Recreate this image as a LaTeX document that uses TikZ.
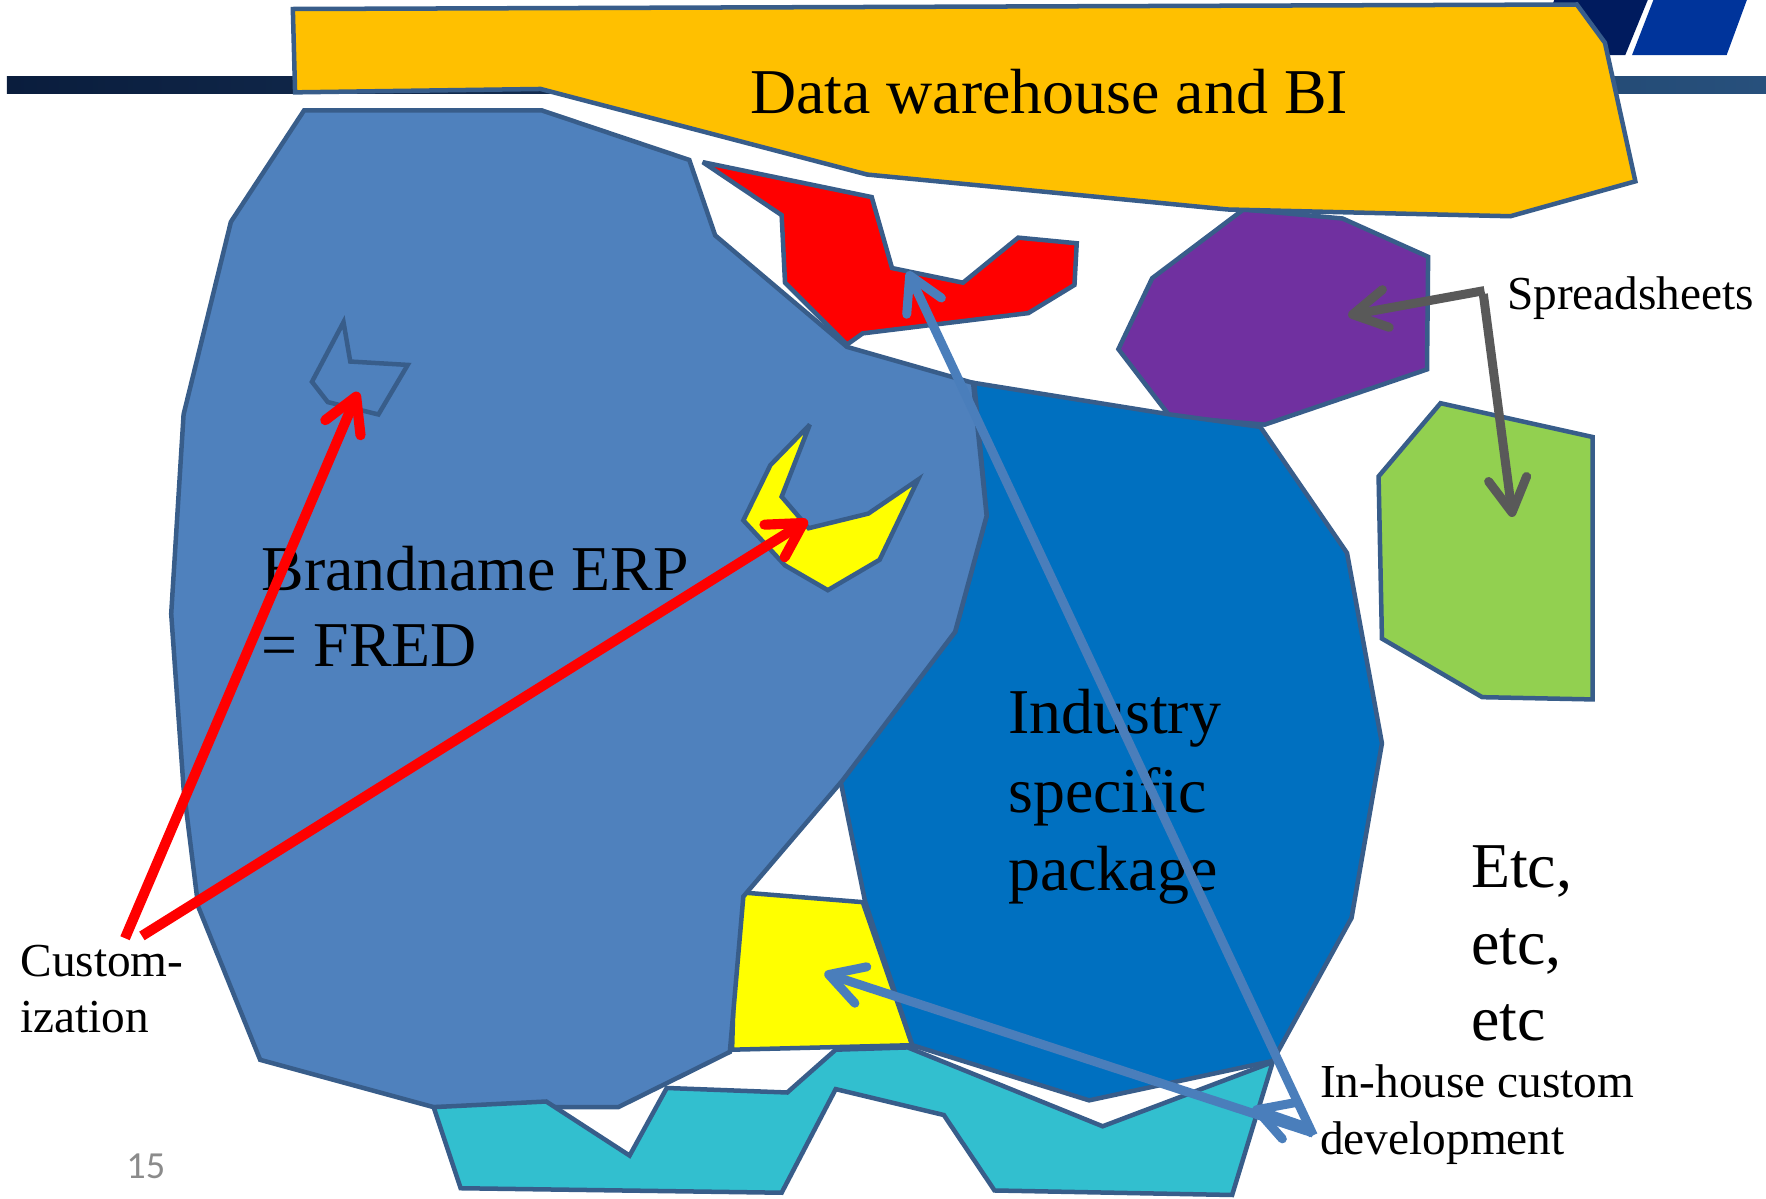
\documentclass[tikz,border=0pt]{standalone}
\usepackage{fontspec}
\setmainfont{Liberation Serif}
\newfontfamily\pagenumfont{Carlito}
\usetikzlibrary{arrows.meta}
\definecolor{olc}{HTML}{385D8A}
\definecolor{dwc}{HTML}{FFC000}
\definecolor{erpc}{HTML}{4F81BD}
\definecolor{indc}{HTML}{0070C0}
\definecolor{purc}{HTML}{7030A0}
\definecolor{grnc}{HTML}{92D050}
\definecolor{yelc}{HTML}{FFFF00}
\definecolor{redc}{HTML}{FF0000}
\definecolor{cyac}{HTML}{32BFCF}
\definecolor{barl}{HTML}{0A1D3D}
\definecolor{barr}{HTML}{27507C}
\definecolor{strA}{HTML}{001B5E}
\definecolor{strB}{HTML}{00349B}
\definecolor{barrow}{HTML}{4A7EBB}
\definecolor{garrow}{HTML}{595959}
\definecolor{numc}{HTML}{8B8B8B}
\begin{document}
\begin{tikzpicture}[x=1pt,y=-1pt,
  poly/.style={draw=olc, line width=4pt, line join=miter, miter limit=4},
  arr/.style={line width=8pt, -{Straight Barb[length=30pt,width=34pt,round]}},
  redarr/.style={arr, line width=9pt, redc},
  bigtxt/.style={inner sep=0pt, anchor=base west, font=\fontsize{56.7}{68}\selectfont},
  smalltxt/.style={inner sep=0pt, anchor=base west, font=\fontsize{42}{50}\selectfont}]
\useasboundingbox (0,0) rectangle (1568,1064);
% slide header
\shade[left color=barl, right color=barr] (6,68) rectangle (1568,83);
\fill[strA] (1380,0) -- (1463,0) -- (1443,49) -- (1360,49) -- cycle;
\fill[strB] (1468,0) -- (1551,0) -- (1533,49) -- (1449,49) -- cycle;
% purple spreadsheet
\filldraw[poly, fill=purc] (1104,186) -- (1192,194) -- (1268,228) -- (1267,328) -- (1123,377) -- (1039,370) -- (993,310) -- (1023,247) -- cycle;
% data warehouse
\filldraw[poly, fill=dwc] (260,8) -- (1400,4) -- (1425,38) -- (1452,161) -- (1341,192) -- (1090,186) -- (770,155) -- (480,79) -- (262,82) -- cycle;
% green
\filldraw[poly, fill=grnc] (1279,358) -- (1414,388) -- (1414,621) -- (1316,619) -- (1227,567) -- (1224,423) -- cycle;
% yellow box bottom
\filldraw[poly, fill=yelc] (654,792) -- (766,801) -- (810,928) -- (650,932) -- cycle;
% industry package
\filldraw[poly, fill=indc] (865,340) -- (1039,368) -- (1119,379) -- (1196,491) -- (1227,660) -- (1200,815) -- (1130,942) -- (967,977) -- (810,928) -- (768,800) -- (746,692) -- (848,561) -- (876,458) -- cycle;
% ERP
\filldraw[poly, fill=erpc] (270,98) -- (481,98) -- (612,142) -- (635,209) -- (752,308) -- (864,340) -- (868,380) -- (876,458) -- (848,561) -- (748,693) -- (660,796) -- (648,934) -- (549,983) -- (385,983) -- (231,941) -- (176,805) -- (163,700) -- (152,545) -- (163,368) -- (205,197) -- cycle;
% red
\filldraw[poly, fill=redc] (624,144) -- (774,175) -- (792,238) -- (855,251) -- (904,211) -- (956,216) -- (954,253) -- (913,278) -- (766,296) -- (752,306) -- (697,251) -- (694,191) -- cycle;
% small yellow in ERP
\filldraw[poly, fill=yelc] (719,377) -- (694,441) -- (718,469) -- (771,456) -- (815,426) -- (781,497) -- (735,524) -- (697,502) -- (660,462) -- (684,413) -- cycle;
% outline shape in ERP
\draw[poly] (305,286) -- (311,321) -- (362,324) -- (336,368) -- (291,357) -- (277,339) -- cycle;
% cyan in-house
\filldraw[poly, fill=cyac] (385,983) -- (485,978) -- (559,1026) -- (592,966) -- (699,970) -- (742,932) -- (806,930) -- (979,1000) -- (1130,943) -- (1094,1061) -- (883,1057) -- (838,990) -- (742,967) -- (694,1059) -- (409,1055) -- cycle;
% texts
\node[bigtxt] (dw) at (666,101) {Data warehouse and BI};
\node[bigtxt] (erp1) at (232,524) {Brandname ERP};
\node[bigtxt] (erp2) at (232,592) {= FRED};
\node[bigtxt] (ind1) at (895,651) {Industry};
\node[bigtxt] (ind2) at (895,721) {specific};
\node[bigtxt] (ind3) at (895,791) {package};
\node[bigtxt] (etc1) at (1306,788) {Etc,};
\node[bigtxt] (etc2) at (1306,856) {etc,};
\node[bigtxt] (etc3) at (1306,924) {etc};
\node[smalltxt] (spr) at (1338,275) {Spreadsheets};
\node[smalltxt] (inh1) at (1172,974) {In-house custom};
\node[smalltxt] (inh2) at (1172,1025) {development};
\node[smalltxt] (cus1) at (18,867) {Custom-};
\node[smalltxt] (cus2) at (18,917) {ization};
\node[inner sep=0pt, anchor=base west, text=numc, font=\pagenumfont\fontsize{34}{40}\selectfont] (pgn) at (112,1046) {15};
% connector coordinates
\coordinate (cA) at (111,833);
\coordinate (cB) at (126,831);
\coordinate (tOut) at (318,348);
\coordinate (tYel) at (717,462);
\coordinate (hA) at (1166,1008);
\coordinate (hB) at (1166,1006);
\coordinate (hC) at (1164,1002);
\coordinate (tRed) at (806,241);
\coordinate (tBox) at (732,864);
\coordinate (tCya) at (1112,984);
\coordinate (sElb) at (1318,258);
\coordinate (sElb2) at (1317,261);
\coordinate (tPur) at (1197,280);
\coordinate (tGrn) at (1343,459);
% arrows
\draw[redarr] (cA) -- (tOut);
\draw[redarr] (cB) -- (tYel);
\draw[arr, barrow] (hA) -- (tRed);
\draw[arr, barrow] (hB) -- (tBox);
\draw[arr, barrow] (hC) -- (tCya);
\draw[arr, garrow] (sElb) -- (tPur);
\draw[arr, garrow] (sElb2) -- (tGrn);
\end{tikzpicture}
\end{document}
